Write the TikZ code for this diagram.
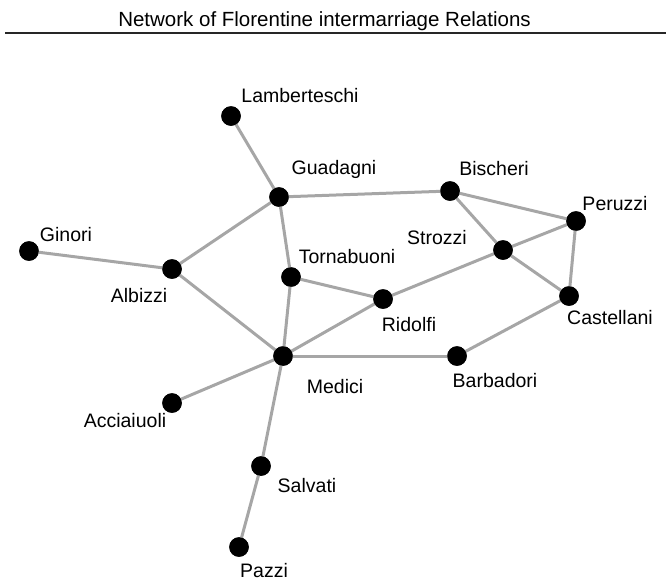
\documentclass[tikz,border=0pt]{standalone}
\usepackage{fontspec}
\setmainfont{Liberation Sans}
\definecolor{edgegray}{HTML}{A6A6A6}
\begin{document}
\begin{tikzpicture}[x=1pt,y=-1pt,
  fam/.style={circle,fill=black,inner sep=0pt,minimum size=19.5pt},
  famlabel/.style={anchor=base,inner sep=0pt,font=\fontsize{19.5}{20}\selectfont},
  tie/.style={draw=edgegray,line width=3pt}]
\useasboundingbox (0,0) rectangle (666,582);
% title
\node[anchor=base,inner sep=0pt,font=\fontsize{20.5}{22}\selectfont] (title) at (324.5,26) {Network of Florentine intermarriage Relations};
\coordinate (ruleL) at (5,33.3);
\coordinate (ruleR) at (666,33.3);
\draw[line width=2.2pt,black!85] (ruleL) -- (ruleR);
% families
\node[fam] (Lamberteschi) at (231,116) {};
\node[fam] (Guadagni) at (279,197) {};
\node[fam] (Bischeri) at (450,191) {};
\node[fam] (Peruzzi) at (576,221) {};
\node[fam] (Strozzi) at (503,250) {};
\node[fam] (Ginori) at (29,251) {};
\node[fam] (Albizzi) at (172,269) {};
\node[fam] (Tornabuoni) at (291,277) {};
\node[fam] (Ridolfi) at (383,299) {};
\node[fam] (Castellani) at (569,296) {};
\node[fam] (Medici) at (283,356) {};
\node[fam] (Barbadori) at (457,356) {};
\node[fam] (Acciaiuoli) at (172,403) {};
\node[fam] (Salvati) at (261,466) {};
\node[fam] (Pazzi) at (239,547) {};
% ties
\path[tie] (Lamberteschi.center) -- (Guadagni.center);
\path[tie] (Guadagni.center) -- (Bischeri.center);
\path[tie] (Guadagni.center) -- (Albizzi.center);
\path[tie] (Guadagni.center) -- (Tornabuoni.center);
\path[tie] (Ginori.center) -- (Albizzi.center);
\path[tie] (Albizzi.center) -- (Medici.center);
\path[tie] (Tornabuoni.center) -- (Medici.center);
\path[tie] (Tornabuoni.center) -- (Ridolfi.center);
\path[tie] (Bischeri.center) -- (Peruzzi.center);
\path[tie] (Bischeri.center) -- (Strozzi.center);
\path[tie] (Strozzi.center) -- (Peruzzi.center);
\path[tie] (Strozzi.center) -- (Castellani.center);
\path[tie] (Strozzi.center) -- (Ridolfi.center);
\path[tie] (Peruzzi.center) -- (Castellani.center);
\path[tie] (Castellani.center) -- (Barbadori.center);
\path[tie] (Medici.center) -- (Barbadori.center);
\path[tie] (Medici.center) -- (Ridolfi.center);
\path[tie] (Medici.center) -- (Acciaiuoli.center);
\path[tie] (Medici.center) -- (Salvati.center);
\path[tie] (Salvati.center) -- (Pazzi.center);
% redraw dots on top
\foreach \n in {Lamberteschi,Guadagni,Bischeri,Peruzzi,Strozzi,Ginori,Albizzi,Tornabuoni,Ridolfi,Castellani,Medici,Barbadori,Acciaiuoli,Salvati,Pazzi}
  \fill[black] (\n.center) circle (9.75pt);
% labels
\node[famlabel] (lLamberteschi) at (300,102) {Lamberteschi};
\node[famlabel] (lGuadagni) at (334,174) {Guadagni};
\node[famlabel] (lTornabuoni) at (347,263) {Tornabuoni};
\node[famlabel] (lBischeri) at (494,175) {Bischeri};
\node[famlabel] (lPeruzzi) at (615,210) {Peruzzi};
\node[famlabel] (lStrozzi) at (437,244) {Strozzi};
\node[famlabel] (lRidolfi) at (409,331) {Ridolfi};
\node[famlabel] (lCastellani) at (610,324) {Castellani};
\node[famlabel] (lBarbadori) at (495,387) {Barbadori};
\node[famlabel] (lGinori) at (66,241) {Ginori};
\node[famlabel] (lAlbizzi) at (139,302) {Albizzi};
\node[famlabel] (lMedici) at (335,393) {Medici};
\node[famlabel] (lAcciaiuoli) at (125,427) {Acciaiuoli};
\node[famlabel] (lSalvati) at (307,492) {Salvati};
\node[famlabel] (lPazzi) at (264,577) {Pazzi};
\end{tikzpicture}
\end{document}
